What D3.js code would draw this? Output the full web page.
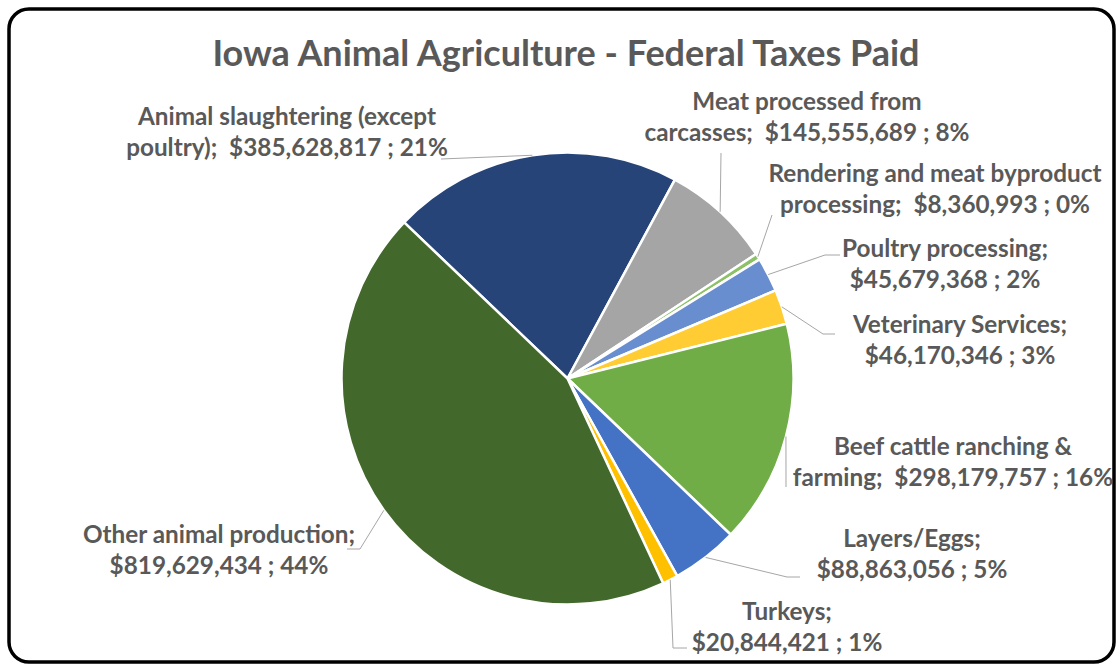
<!DOCTYPE html>
<html>
<head>
<meta charset="utf-8">
<script src="https://cdn.jsdelivr.net/npm/d3@7"></script>
<style>
  html, body { margin: 0; padding: 0; background: #ffffff; }
  svg { display: block; }
  text { font-family: Lato, "Open Sans", sans-serif; font-weight: 700; fill: #595959; white-space: pre; }
</style>
</head>
<body>
<svg id="chart" width="1117" height="669"></svg>
<script>
// Federal taxes paid by Iowa animal agriculture sectors (USD)
const categories = [
  "Animal slaughtering (except poultry)",
  "Meat processed from carcasses",
  "Rendering and meat byproduct processing",
  "Poultry processing",
  "Veterinary Services",
  "Beef cattle ranching & farming",
  "Layers/Eggs",
  "Turkeys",
  "Other animal production"
];
const values = [385628817, 145555689, 8360993, 45679368, 46170346, 298179757, 88863056, 20844421, 819629434];
const percentLabels = ["21%", "8%", "0%", "2%", "3%", "16%", "5%", "1%", "44%"];

// Label text as wrapped into two lines
const labelLines = [
  ["Animal slaughtering (except", "poultry);  $385,628,817 ; 21%"],
  ["Meat processed from", "carcasses;  $145,555,689 ; 8%"],
  ["Rendering and meat byproduct", "processing;  $8,360,993 ; 0%"],
  ["Poultry processing;", "$45,679,368 ; 2%"],
  ["Veterinary Services;", "$46,170,346 ; 3%"],
  ["Beef cattle ranching &", "farming;  $298,179,757 ; 16%"],
  ["Layers/Eggs;", "$88,863,056 ; 5%"],
  ["Turkeys;", "$20,844,421 ; 1%"],
  ["Other animal production;", "$819,629,434 ; 44%"]
];

const colors = ["#264478", "#A5A5A5", "#8CC168", "#698ED0", "#FFCD33", "#70AD47", "#4472C4", "#FFC000", "#43682B"];

// Label placement: text centre x, first baseline y, and leader points on the label side
const labelLayout = [
  { x: 287, y: 125, leader: [[441, 159]] },
  { x: 807, y: 110, leader: [[721, 153]] },
  { x: 935, y: 182, leader: [[772, 215]] },
  { x: 945, y: 257, leader: [[840, 255], [825, 255]] },
  { x: 960, y: 333, leader: [[835, 334], [823, 334]] },
  { x: 953, y: 455, leader: [[786, 487]] },
  { x: 912, y: 547, leader: [[800, 577], [787, 577]] },
  { x: 787, y: 620, leader: [[687, 648], [673, 648]] },
  { x: 219, y: 543, leader: [[347, 549], [360, 549]] }
];

const W = 1117, H = 669;
const cx = 567.5, cy = 378.5, R = 226;
const lineGap = 31;
const firstAngle = -46.29 * Math.PI / 180;

const svg = d3.select("#chart");

// Chart frame
svg.append("rect")
  .attr("x", 9).attr("y", 9)
  .attr("width", 1105).attr("height", 653)
  .attr("rx", 20).attr("ry", 20)
  .attr("fill", "#ffffff")
  .attr("stroke", "#000000")
  .attr("stroke-width", 3.5);

// Title
svg.append("text")
  .attr("x", 566).attr("y", 66)
  .attr("text-anchor", "middle")
  .style("font-size", "36px")
  .text("Iowa Animal Agriculture - Federal Taxes Paid");

const data = categories.map((c, i) => ({ name: c, value: values[i], i }));

const pie = d3.pie()
  .value(d => d.value)
  .sort(null)
  .startAngle(firstAngle)
  .endAngle(firstAngle + 2 * Math.PI);

const arcs = pie(data);
const arc = d3.arc().innerRadius(0).outerRadius(R);
const edge = d3.arc().innerRadius(R).outerRadius(R);

const g = svg.append("g").attr("transform", `translate(${cx},${cy})`);

g.selectAll("path.slice")
  .data(arcs)
  .join("path")
  .attr("class", "slice")
  .attr("d", arc)
  .attr("fill", d => colors[d.data.i])
  .attr("stroke", "#ffffff")
  .attr("stroke-width", 2.5)
  .attr("stroke-linejoin", "round");

// Leader lines from the label to the middle of each slice's outer edge
const line = d3.line();
svg.selectAll("path.leader")
  .data(arcs)
  .join("path")
  .attr("class", "leader")
  .attr("d", d => {
    const m = edge.centroid(d);
    const pts = labelLayout[d.data.i].leader.concat([[cx + m[0], cy + m[1]]]);
    return line(pts);
  })
  .attr("fill", "none")
  .attr("stroke", "#A6A6A6")
  .attr("stroke-width", 1);

// Data labels
const labels = svg.selectAll("text.lbl")
  .data(arcs)
  .join("text")
  .attr("class", "lbl")
  .attr("text-anchor", "middle")
  .style("font-size", "24.3px");

labels.selectAll("tspan")
  .data(d => labelLines[d.data.i].map((t, k) => ({ t, k, i: d.data.i })))
  .join("tspan")
  .attr("x", d => labelLayout[d.i].x)
  .attr("y", d => labelLayout[d.i].y + d.k * lineGap)
  .text(d => d.t);
</script>
</body>
</html>
